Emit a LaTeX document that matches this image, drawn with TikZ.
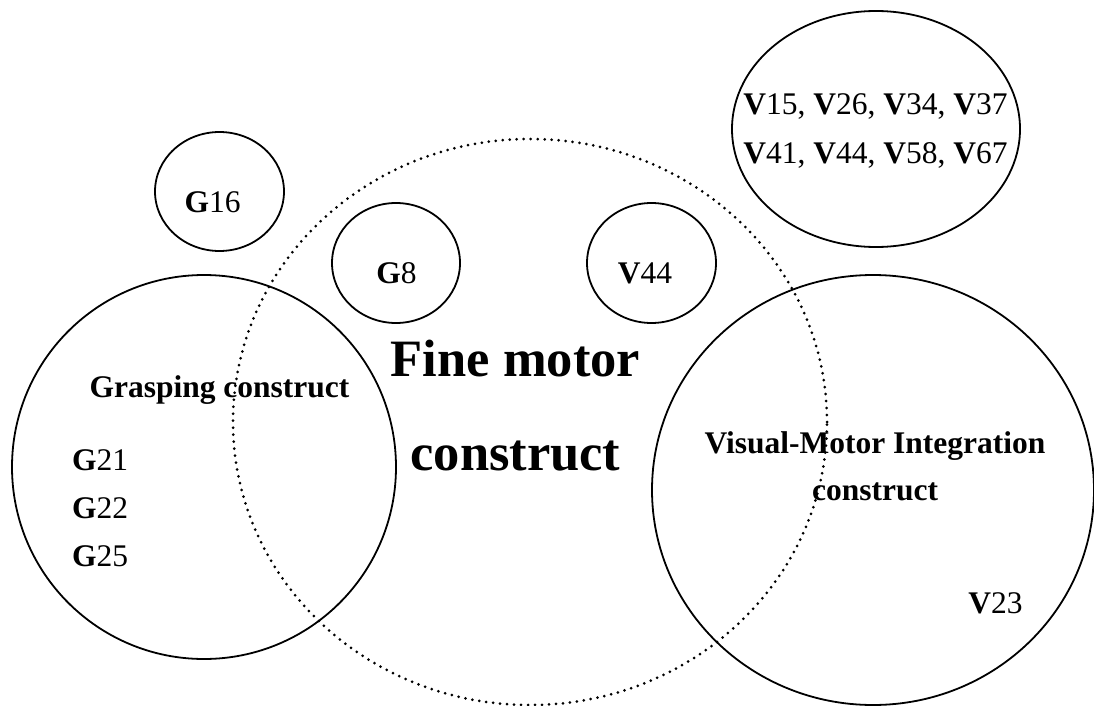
\documentclass[tikz,border=0pt]{standalone}
\usepackage{fontspec}
\setmainfont{Liberation Serif}
\usepackage{tikz}
\usetikzlibrary{shapes.geometric}
\tikzset{
  ring/.style={
    draw, ellipse, line width=1.8pt, inner sep=0pt
  },
  finering/.style={
    draw, ellipse, line width=3pt, inner sep=0pt,
    line cap=round, dash pattern=on 0pt off 7pt
  },
  item/.style={inner sep=0pt, font=\fontsize{31.5}{48}\selectfont},
  heading/.style={inner sep=0pt, align=center, font=\fontsize{31.5}{47}\selectfont\bfseries},
  bigheading/.style={inner sep=0pt, align=center, font=\fontsize{52.5}{94}\selectfont\bfseries},
}

\begin{document}
\begin{tikzpicture}[x=1pt, y=-1pt]
\useasboundingbox (0,0) rectangle (1094,706);

%% ── construct circles ─────────────────────────────────────────────
\node[finering, minimum width=594pt, minimum height=566pt] (fine)  at (530,422) {};
\node[ring,     minimum width=384pt, minimum height=384pt] (grasp) at (204,467) {};
\node[ring,     minimum width=442pt, minimum height=430pt] (vmi)   at (873,490) {};

%% ── single-item circles ───────────────────────────────────────────
\node[ring, minimum width=129pt, minimum height=119pt] (g16ring)  at (219.5,191.5) {};
\node[ring, minimum width=128pt, minimum height=120pt] (g8ring)   at (396,263) {};
\node[ring, minimum width=129pt, minimum height=120pt] (v44ring)  at (651.5,263) {};
\node[ring, minimum width=288pt, minimum height=236pt] (vlistring) at (876,129) {};

%% ── labels (base = last line) ─────────────────────────────────────
\node[bigheading, anchor=base] (finelabel) at (515.5,470) {Fine motor\\construct};
\node[heading, anchor=base] (grasplabel) at (219.5,397) {Grasping construct};
\node[heading, anchor=base] (vmilabel) at (875,500) {Visual-Motor Integration\\construct};

\node[item, anchor=base] (g16) at (212.5,212) {\textbf{G}16};
\node[item, anchor=base] (g8)  at (396.5,283) {\textbf{G}8};
\node[item, anchor=base] (v44) at (645,283) {\textbf{V}44};
\node[item, anchor=base] (v23) at (995.5,613) {\textbf{V}23};

\foreach \num/\yy in {21/470, 22/518, 25/566}
  \node[item, anchor=base west] (g\num) at (72,\yy) {\textbf{G}\num};

\node[item, anchor=base] (vrowa) at (875.5,115) {\textbf{V}15, \textbf{V}26, \textbf{V}34, \textbf{V}37};
\node[item, anchor=base] (vrowb) at (875.5,163) {\textbf{V}41, \textbf{V}44, \textbf{V}58, \textbf{V}67};

\end{tikzpicture}
\end{document}
